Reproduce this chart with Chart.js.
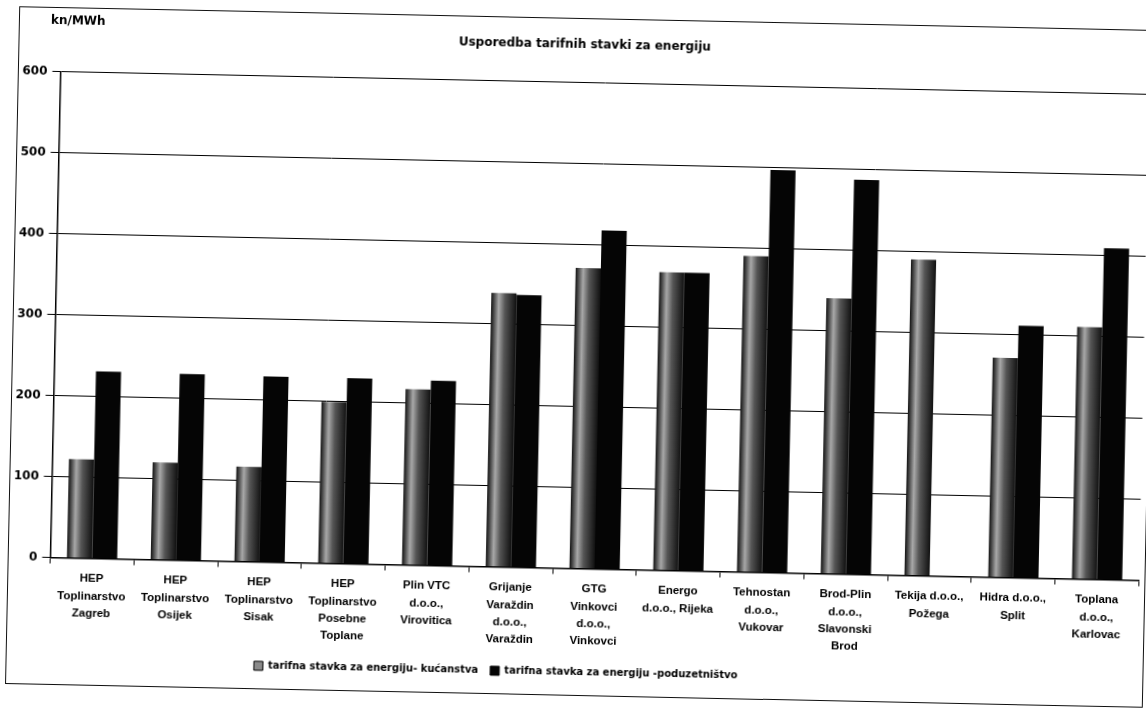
<!DOCTYPE html>
<html>
<head>
<meta charset="utf-8">
<script src="https://cdn.jsdelivr.net/npm/chart.js@4.4.1/dist/chart.umd.min.js"></script>
<style>
  html, body { margin: 0; padding: 0; background: #fff; }
  /* scanned page is slightly tilted, so the whole frame is turned a bit */
  #okvir { position: absolute; left: 12px; top: 18px; width: 1138px; height: 678px;
           border: 1.5px solid #111; box-sizing: border-box; background: #fff;
           transform: rotate(1.2deg); transform-origin: 50% 50%; }
  #okvir canvas { display: block; }
</style>
</head>
<body>
<div id="okvir"><canvas id="grafikon" width="1135" height="675"></canvas></div>
<script>
// podaci
const kategorije = [
  ["HEP", "Toplinarstvo", "Zagreb"],
  ["HEP", "Toplinarstvo", "Osijek"],
  ["HEP", "Toplinarstvo", "Sisak"],
  ["HEP", "Toplinarstvo", "Posebne", "Toplane"],
  ["Plin VTC", "d.o.o.,", "Virovitica"],
  ["Grijanje", "Varaždin", "d.o.o.,", "Varaždin"],
  ["GTG", "Vinkovci", "d.o.o.,", "Vinkovci"],
  ["Energo", "d.o.o., Rijeka"],
  ["Tehnostan", "d.o.o.,", "Vukovar"],
  ["Brod-Plin", "d.o.o.,", "Slavonski", "Brod"],
  ["Tekija d.o.o.,", "Požega"],
  ["Hidra d.o.o.,", "Split"],
  ["Toplana", "d.o.o.,", "Karlovac"]
];
const kucanstva     = [122, 120, 117, 199, 217, 338, 371, 368, 390, 340, 390, 271, 311];
const poduzetnistvo = [231, 230, 229, 229, 228, 336, 418, 368, 497, 487, 0, 311, 409];
const nazivi = ["tarifna stavka za energiju- kućanstva", "tarifna stavka za energiju -poduzetništvo"];
const yMin = 0, yMax = 600, yKorak = 100;

const SIRINA_KAT = 0.6;

// household bars look like shaded columns in the scan: dark edges, light streak
function bojaKucanstva(c) {
  const chart = c.chart;
  const xs = chart.scales && chart.scales.x;
  if (c.type !== 'data' || !xs || !chart.chartArea) return '#8a8a8a';
  const w = xs.width / kategorije.length * SIRINA_KAT / 2;
  const cx = xs.getPixelForValue(c.dataIndex) - w / 2;
  const g = chart.ctx.createLinearGradient(cx - w / 2, 0, cx + w / 2, 0);
  g.addColorStop(0, '#111');
  g.addColorStop(0.3, '#a8a8a8');
  g.addColorStop(0.55, '#555');
  g.addColorStop(1, '#111');
  return g;
}

const jedinica = {
  id: 'jedinica',
  afterDraw(chart) {
    const ctx = chart.ctx;
    ctx.save();
    ctx.font = 'bold 12px "DejaVu Sans"';
    ctx.fillStyle = '#000';
    ctx.textBaseline = 'middle';
    ctx.fillText('kn/MWh', 31, 13);
    ctx.restore();
  }
};

// legend sits left of centre in the original
const pomakLegende = {
  id: 'pomakLegende',
  afterLayout(chart) {
    if (!chart.legend) return;
    chart.legend.left -= 76;
    chart.legend.right -= 76;
  }
};

new Chart(document.getElementById('grafikon'), {
  type: 'bar',
  data: {
    labels: kategorije,
    datasets: [
      { label: nazivi[0], data: kucanstva, backgroundColor: bojaKucanstva, borderWidth: 0 },
      { label: nazivi[1], data: poduzetnistvo, backgroundColor: '#050505', borderWidth: 0 }
    ]
  },
  options: {
    responsive: false,
    animation: false,
    datasets: { bar: { categoryPercentage: SIRINA_KAT, barPercentage: 1.0 } },
    layout: { padding: { left: 0, right: 4.5, top: 0, bottom: 6.5 } },
    plugins: {
      title: {
        display: true,
        text: 'Usporedba tarifnih stavki za energiju',
        color: '#000',
        font: { family: '"DejaVu Sans"', size: 12, weight: 'bold', lineHeight: 1.2 },
        padding: { top: 18.3, bottom: 30.8 }
      },
      legend: {
        position: 'bottom',
        labels: {
          color: '#000',
          boxWidth: 9, boxHeight: 9, padding: 12,
          font: { family: '"DejaVu Sans"', size: 10, weight: 'bold' },
          generateLabels(chart) {
            const l = Chart.defaults.plugins.legend.labels.generateLabels(chart);
            l.forEach((it, i) => {
              it.fillStyle = i === 0 ? '#8a8a8a' : '#050505';
              it.strokeStyle = '#000';
              it.lineWidth = 1;
            });
            return l;
          }
        }
      },
      tooltip: { enabled: false }
    },
    scales: {
      x: {
        grid: { display: true, drawOnChartArea: false, drawTicks: true, tickLength: 6, color: '#000' },
        border: { color: '#000', width: 1.5 },
        ticks: {
          color: '#000', padding: 6, maxRotation: 0, autoSkip: false,
          font: { family: '"Liberation Sans"', size: 11.5, weight: 'bold', lineHeight: 1.5 }
        },
        afterFit(s) { s.height = 87; }
      },
      y: {
        min: yMin, max: yMax,
        grid: { color: '#000', lineWidth: 1, tickLength: 8 },
        border: { color: '#000', width: 1.5 },
        ticks: {
          stepSize: yKorak, color: '#000', padding: 5,
          font: { family: '"DejaVu Sans"', size: 12, weight: 'bold' }
        },
        afterFit(s) { s.width = 41.5; }
      }
    }
  },
  plugins: [jedinica, pomakLegende]
});
</script>
</body>
</html>
